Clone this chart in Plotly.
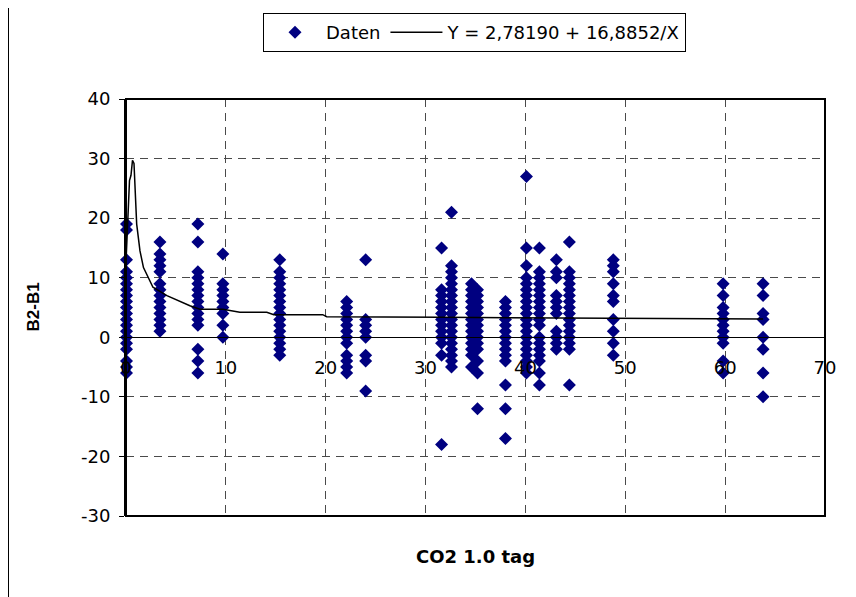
import plotly.graph_objects as go

# ---- data ----
col_x = [0.05, 3.4, 7.2, 9.7, 15.4, 22.1, 24.0, 31.6, 32.6, 34.6, 35.2,
         38.0, 40.1, 41.4, 43.1, 44.4, 48.8, 59.8, 63.8]
col_vals = [
    [19, 18, 13, 11, 10, 9, 8, 7, 6, 5, 4, 3, 2, 1, 0, -1, -2, -4, -5, -6],
    [16, 14, 13, 12, 11, 9, 8, 7, 6, 5, 4, 3, 2, 1],
    [19, 16, 11, 10, 9, 8, 7, 6, 5, 4, 3, 2, -2, -4, -6],
    [14, 9, 8, 7, 6, 5, 4, 2, 0],
    [13, 11, 10, 9, 8, 7, 6, 5, 4, 3, 2, 1, 0, -1, -2, -3],
    [6, 5, 4, 3, 2, 1, 0, -1, -3, -4, -5, -6],
    [13, 3, 2, 1, 0, -3, -4, -9],
    [15, 8, 7, 6, 5, 4, 3, 2, 1, 0, -1, -3, -18],
    [21, 12, 11, 10, 9, 8, 7, 6, 5, 4, 3, 2, 1, 0, -1, -2, -3, -4, -5],
    [9, 8, 7, 6, 5, 4, 3, 2, 1, 0, -1, -2, -3, -5],
    [8, 7, 6, 5, 4, 3, 2, 1, 0, -1, -2, -4, -6, -12],
    [6, 5, 4, 3, 2, 1, 0, -1, -2, -3, -4, -8, -12, -17],
    [27, 15, 12, 10, 9, 8, 7, 6, 5, 4, 3, 2, 1, 0, -1, -2, -3, -4, -5, -6],
    [15, 11, 10, 9, 8, 7, 6, 5, 4, 3, 2, 0, -1, -2, -3, -4, -6, -8],
    [13, 11, 10, 7, 6, 5, 4, 1, 0, -1, -2],
    [16, 11, 10, 9, 8, 7, 6, 5, 4, 3, 2, 1, 0, -1, -2, -8],
    [13, 12, 11, 9, 7, 6, 3, 1, -1, -3],
    [9, 7, 5, 4, 3, 2, 1, 0, -1, -4, -6],
    [9, 7, 4, 3, 0, -2, -6, -10],
]

fit_x = [0.02, 0.35, 0.5, 0.65, 0.8, 0.9, 1.07, 1.4, 1.75, 2.7, 4.1, 6.4, 7.4,
         9.7, 10.4, 11.4, 14.1, 14.8, 19.7, 20.1, 31.6, 44.4, 48.7, 59.7, 63.8]
fit_y = [13.4, 26.3, 27.2, 29.7, 29.2, 24.6, 19.0, 14.5, 11.7, 8.4, 7.0, 5.3, 4.7,
         4.7, 4.5, 4.2, 4.2, 3.8, 3.8, 3.45, 3.35, 3.25, 3.1, 3.05, 3.05]

x_ticks = [0, 10, 20, 30, 40, 50, 60, 70]
y_ticks = [-30, -20, -10, 0, 10, 20, 30, 40]

series_name = "Daten"
fit_name = "Y = 2,78190 + 16,8852/X"
x_title = "CO2 1.0 tag"
y_title = "B2-B1"

pts_x, pts_y = [], []
for cx, vals in zip(col_x, col_vals):
    for v in vals:
        pts_x.append(cx)
        pts_y.append(v)

# page has an 8px body margin, so the figure is placed at (8, 8)
OFF = 8
W, H = 856 - OFF, 597 - OFF
L, R, T, B = 126 - OFF, 31, 99 - OFF, 81
pw, ph = W - L - R, H - T - B

def px_x(page_x):
    return (page_x - OFF - L) / pw

def px_y(page_y):
    return (H - B - (page_y - OFF)) / ph

fig = go.Figure()
fig.add_trace(go.Scatter(
    x=pts_x, y=pts_y, mode="markers", name=series_name,
    marker=dict(symbol="diamond", size=10, color="#000080", line=dict(width=0)),
    cliponaxis=False,
))
fig.add_trace(go.Scatter(
    x=fit_x, y=fit_y, mode="lines", name=fit_name,
    line=dict(color="black", width=1.5),
))

font = "DejaVu Sans, sans-serif"
grid = "#4a4a4a"
fig.update_layout(
    width=W, height=H,
    margin=dict(l=L, r=R, t=T, b=B, pad=0, autoexpand=False),
    paper_bgcolor="white", plot_bgcolor="white",
    font=dict(family=font, size=18, color="black"),
    showlegend=True,
    legend=dict(
        orientation="h",
        x=px_x(263), xanchor="left",
        y=px_y(13), yanchor="top",
        bordercolor="black", borderwidth=1, bgcolor="white",
        font=dict(family=font, size=18, color="black"),
        itemwidth=52,
    ),
    xaxis=dict(
        range=[0, 70], tickvals=x_ticks, ticktext=[str(t) for t in x_ticks],
        showgrid=True, gridcolor=grid, griddash="8px,6px", gridwidth=1,
        zeroline=False,
        anchor="free", position=3 / 7,
        showline=True, linecolor="black", linewidth=1,
        ticks="", ticklabelstandoff=14, tickfont=dict(size=18),
    ),
    yaxis=dict(
        range=[-30, 40], tickvals=y_ticks, ticktext=[str(t) for t in y_ticks],
        showgrid=True, gridcolor=grid, griddash="8px,6px", gridwidth=1,
        zeroline=True, zerolinecolor="black", zerolinewidth=1,
        showline=True, linecolor="black", linewidth=2,
        ticks="outside", ticklen=5, tickcolor="black", tickwidth=1,
        ticklabelstandoff=5, tickfont=dict(size=18),
    ),
    shapes=[
        dict(type="rect", xref="paper", yref="paper", x0=0, x1=1, y0=0, y1=1,
             line=dict(color="black", width=2), layer="above"),
        dict(type="line", xref="paper", yref="paper",
             x0=px_x(8.5), x1=px_x(8.5), y0=px_y(620), y1=px_y(0),
             line=dict(color="black", width=1)),
    ],
    annotations=[
        dict(text="<b>" + x_title + "</b>", xref="paper", yref="paper",
             x=0.5, y=px_y(556), showarrow=False,
             font=dict(family=font, size=18), xanchor="center", yanchor="middle"),
        dict(text="<b>" + y_title + "</b>", xref="paper", yref="paper",
             x=px_x(33), y=0.5, showarrow=False, textangle=-90,
             font=dict(family="Liberation Sans, Arial, sans-serif", size=17),
             xanchor="center", yanchor="middle"),
    ],
)

fig.write_html("out.html")
